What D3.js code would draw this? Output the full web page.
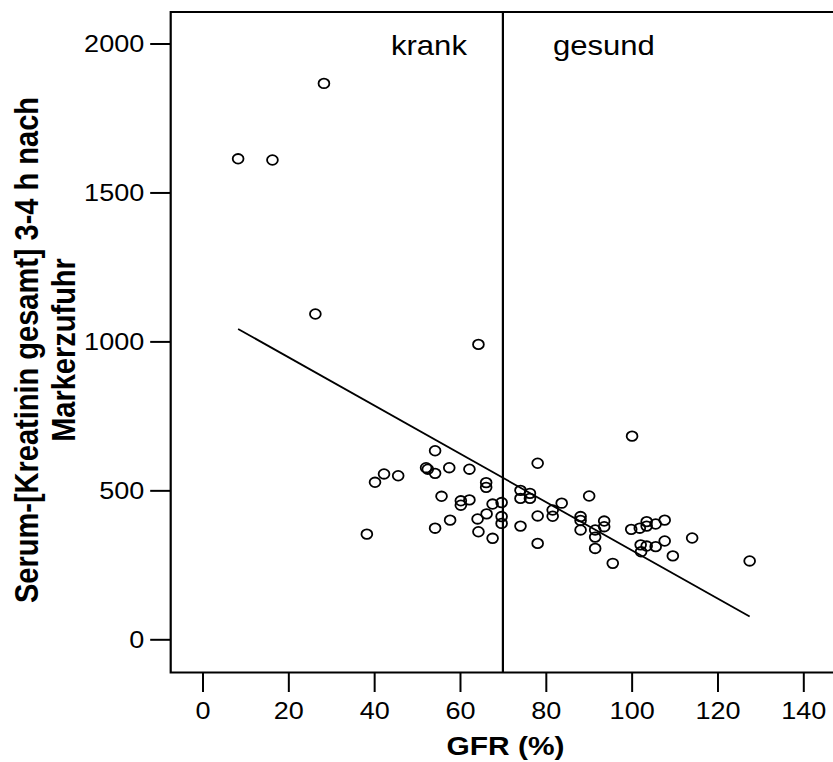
<!DOCTYPE html>
<html>
<head>
<meta charset="utf-8">
<script src="https://cdn.jsdelivr.net/npm/d3@7"></script>
<style>
  html, body { margin: 0; padding: 0; background: #fff; }
  svg { display: block; }
  text { font-family: "Liberation Sans", Arial, sans-serif; fill: #000; }
</style>
</head>
<body>
<svg id="chart" width="833" height="762"></svg>
<script>
// GFR (%) und Serum-Kreatinin
var gfr = [8.3, 16.3, 28.3, 26.3, 64.3, 100.1,
    38.3, 40.2, 42.3, 45.6, 52.1, 52.5, 54.2, 54.2, 54.2, 55.7, 57.5, 57.7,
    60.2, 60.2, 62.2, 62.2, 64.1, 64.3, 66.1, 66.1, 66.2, 67.6, 67.6,
    69.7, 69.7, 69.7, 74.1, 74.1, 76.3, 76.3, 74.1, 78.1, 78.1, 78.1,
    81.6, 81.6, 83.7, 90.1, 88.1, 88.1, 88.1, 91.5, 91.5, 91.5, 93.6, 93.6,
    95.6, 99.9, 101.9, 102.1, 102.2, 103.5, 103.5, 105.6, 107.7, 103.5,
    105.6, 107.7, 109.6, 114.1, 127.5];
var kreatinin = [1613, 1609, 1866, 1092, 990, 682,
    353, 527, 555, 549, 576, 571, 633, 557, 373, 480, 576, 400,
    465, 450, 571, 468, 404, 361, 526, 510, 421, 454, 339,
    459, 412, 389, 500, 473, 490, 473, 380, 591, 414, 322,
    434, 413, 457, 481, 412, 399, 367, 367, 343, 305, 397, 378,
    255, 369, 373, 317, 294, 395, 380, 387, 400, 313,
    311, 330, 280, 340, 263];

// Regressionsgerade
var fitIntercept = 1109;
var fitSlope = -8.1;

var xTicks = [0, 20, 40, 60, 80, 100, 120, 140];
var yTicks = [0, 500, 1000, 1500, 2000];
var cutoff = 70;
var groupLabels = ["krank", "gesund"];

var svg = d3.select("#chart");
var stretch = 1.15;

var x = d3.scaleLinear().domain([0, 140]).range([202.5, 803.3]);
var y = d3.scaleLinear().domain([0, 2000]).range([639.3, 43.5]);

var frame = {left: 170.7, top: 12, bottom: 672.5, right: 840};

var points = gfr.map(function (g, i) { return {x: g, y: kreatinin[i]}; });

// Rahmen (rechts offen)
svg.append("path")
    .attr("d", "M" + frame.right + "," + frame.top + "H" + frame.left +
        "V" + frame.bottom + "H" + frame.right)
    .attr("fill", "none")
    .attr("stroke", "#000")
    .attr("stroke-width", 2.2);

// y-Achse
var yAxis = svg.append("g")
    .attr("transform", "translate(" + frame.left + ",0)")
    .call(d3.axisLeft(y).tickValues(yTicks).tickFormat(d3.format("d"))
        .tickSize(20.5).tickPadding(6).tickSizeOuter(0));
yAxis.select(".domain").remove();
yAxis.selectAll(".tick line").attr("stroke-width", 2);
yAxis.selectAll(".tick text")
    .attr("x", -26.5 / stretch)
    .attr("dy", "0.36em")
    .attr("transform", "scale(" + stretch + ",1)")
    .style("font-size", "23.5px")
    .style("font-family", "'Liberation Sans', Arial, sans-serif");

// x-Achse
var xAxis = svg.append("g")
    .attr("transform", "translate(0," + frame.bottom + ")")
    .call(d3.axisBottom(x).tickValues(xTicks).tickSize(19.5).tickPadding(0).tickSizeOuter(0));
xAxis.select(".domain").remove();
xAxis.selectAll(".tick line").attr("stroke-width", 2);
xAxis.selectAll(".tick text")
    .attr("y", 46.5)
    .attr("dy", 0)
    .attr("transform", "scale(" + stretch + ",1)")
    .style("font-size", "23.5px")
    .style("font-family", "'Liberation Sans', Arial, sans-serif");

// Grenze krank / gesund
svg.append("line")
    .attr("x1", x(cutoff)).attr("x2", x(cutoff))
    .attr("y1", frame.top).attr("y2", frame.bottom)
    .attr("stroke", "#000")
    .attr("stroke-width", 2.2);

svg.append("text")
    .attr("transform", "translate(" + (x(cutoff) - 36) + ",55) scale(" + stretch + ",1)")
    .attr("text-anchor", "end")
    .style("font-size", "27px")
    .text(groupLabels[0]);

svg.append("text")
    .attr("transform", "translate(" + (x(cutoff) + 50) + ",55) scale(" + stretch + ",1)")
    .attr("text-anchor", "start")
    .style("font-size", "27px")
    .text(groupLabels[1]);

// Regressionsgerade
var gx = d3.extent(gfr);
svg.append("line")
    .attr("x1", x(gx[0])).attr("y1", y(fitIntercept + fitSlope * gx[0]))
    .attr("x2", x(gx[1])).attr("y2", y(fitIntercept + fitSlope * gx[1]))
    .attr("stroke", "#000")
    .attr("stroke-width", 1.8);

// Punkte
svg.append("g")
    .selectAll("ellipse")
    .data(points)
    .enter().append("ellipse")
    .attr("cx", function (d) { return x(d.x); })
    .attr("cy", function (d) { return y(d.y); })
    .attr("rx", 5.4)
    .attr("ry", 4.8)
    .attr("fill", "none")
    .attr("stroke", "#000")
    .attr("stroke-width", 1.8);

// Achsentitel
svg.append("text")
    .attr("transform", "translate(" + (505.5) + ",755) scale(" + stretch + ",1)")
    .attr("text-anchor", "middle")
    .style("font-size", "26px")
    .style("font-weight", "bold")
    .text("GFR (%)");

var yTitle = svg.append("text")
    .attr("transform", "translate(38,350) scale(" + stretch + ",1) rotate(-90)")
    .attr("text-anchor", "middle")
    .style("font-size", "29px")
    .style("font-weight", "bold");
yTitle.append("tspan").attr("x", 0).attr("dy", 0).text("Serum-[Kreatinin gesamt] 3-4 h nach");
yTitle.append("tspan").attr("x", 0).attr("dy", "1.1em").text("Markerzufuhr");
</script>
</body>
</html>
